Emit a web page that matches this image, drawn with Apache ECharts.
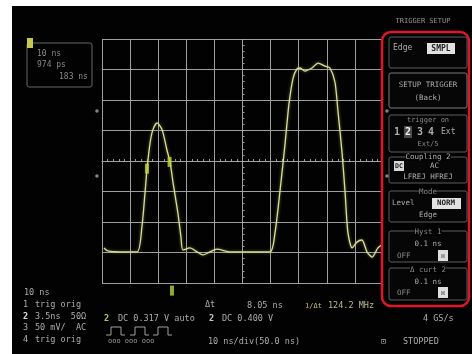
<!DOCTYPE html>
<html>
<head>
<meta charset="utf-8">
<style>
  html, body { margin: 0; padding: 0; background: #fff; }
  #screen { position: absolute; left: 12px; top: 6px; width: 460px; height: 348px; background: #020202; }
  #chart { position: absolute; left: 0; top: 0; width: 472px; height: 354px; }
</style>
<script src="https://cdn.jsdelivr.net/npm/echarts@6/dist/echarts.min.js"></script>
</head>
<body>
<div id="screen"></div>
<div id="chart"></div>
<script>
// Captured trace, channel 1 (10 ns/div, 100 mV/div, time relative to screen centre)
const timeNs = [-49.3, -47.9, -43.6, -37.5, -35.8, -34.7, -34.0, -32.9, -31.9, -30.4,
  -28.6, -26.9, -25.8, -24.7, -23.0, -21.9, -21.2, -18.7, -16.2, -14.1,
  -11.6, -9.1, -4.4, 2.7, 9.8, 11.6, 13.3, 15.1, 16.5, 18.0,
  19.4, 20.5, 22.2, 24.7, 26.9, 29.4, 31.1, 32.9, 34.0, 35.4,
  36.5, 37.5, 39.0, 40.7, 42.5, 44.3, 46.1, 48.2, 50.0];
const voltMv = [-285, -295, -298, -298, -216, -105, -30, 59, 102, 125,
  102, 36, -3, -72, -170, -249, -292, -285, -298, -308,
  -298, -289, -298, -298, -298, -233, -102, 52, 184, 272,
  302, 305, 295, 305, 321, 311, 305, 259, 161, 30,
  -102, -233, -285, -266, -259, -298, -315, -285, -272];

// Cursor measurement
const cursorT1 = -34.0;
const deltaTns = 8.05;
const cursorLevelsMv = [-25, -3];
const freqMHz = 124.2;

// Trigger position and level indicators
const triggerTimeNs = -25.1;
const levelMarksMv = [164, -49];

const ui = 'DejaVu Sans Mono';
const grey = '#acacac';
const dim = '#888888';

function txt(x, y, text, opt) {
  opt = opt || {};
  return {
    type: 'text', x: x, y: y, z: opt.z || 110,
    style: {
      text: text, fill: opt.fill || grey,
      font: (opt.weight || 'normal') + ' ' + (opt.size || 8) + 'px "' + ui + '"',
      textAlign: opt.align || 'left', textVerticalAlign: 'middle',
      backgroundColor: opt.bg, padding: opt.pad
    }
  };
}
function box(x, y, w, h, opt) {
  opt = opt || {};
  return {
    type: 'rect', z: opt.z || 105,
    shape: { x: x, y: y, width: w, height: h, r: opt.r || 2 },
    style: { fill: opt.fill || '#060606', stroke: opt.stroke || '#5c5c5c', lineWidth: opt.lw || 1 }
  };
}
function pulseIcon(x0) {
  return {
    type: 'polyline', z: 110,
    shape: { points: [[x0, 335], [x0 + 5, 335], [x0 + 5, 327], [x0 + 15, 327], [x0 + 15, 335], [x0 + 19, 335]] },
    style: { stroke: '#a0a0a0', lineWidth: 1, fill: null }
  };
}

const chart = echarts.init(document.getElementById('chart'), null, { renderer: 'canvas' });

const cursorData = cursorLevelsMv.map((v, i) => [cursorT1 + i * deltaTns, v]);

const graphics = [
  // channel badge and timebase readout box
  box(27, 43, 65, 44, { stroke: '#666', fill: 'transparent', z: 90 }),
  { type: 'rect', z: 95, shape: { x: 27, y: 38, width: 6, height: 10 }, style: { fill: '#c4c84e' } },
  txt(37, 54, '10 ns', { fill: dim }),
  txt(37, 65, '974 ps', { fill: dim }),
  txt(59, 77, '183 ns', { fill: dim }),

  // menu title
  txt(423, 21, 'TRIGGER SETUP', { fill: '#969696', align: 'center', size: 7 }),

  // softkey frame
  { type: 'rect', z: 100, shape: { x: 382, y: 32, width: 87, height: 274, r: 9 },
    style: { fill: '#020202', stroke: '#e0152a', lineWidth: 2.5 } },

  box(389, 37, 78, 31),
  txt(393, 48, 'Edge', {}),
  { type: 'rect', z: 108, shape: { x: 427, y: 43, width: 28, height: 11 }, style: { fill: '#e2e2e2' } },
  txt(441, 48.5, 'SMPL', { fill: '#222', align: 'center', weight: 'bold' }),

  box(389, 73, 78, 35, { stroke: '#7a7a7a' }),
  txt(428, 85, 'SETUP TRIGGER', { align: 'center', size: 7.5 }),
  txt(428, 98, '(Back)', { align: 'center', size: 7.5 }),

  box(389, 115, 78, 37),
  txt(428, 120, 'trigger on', { align: 'center', size: 7, fill: dim }),
  txt(394, 132, '1', { size: 10, weight: 'bold' }),
  { type: 'rect', z: 108, shape: { x: 404, y: 126, width: 8, height: 12 }, style: { fill: '#4a4a4a' } },
  txt(405, 132, '2', { size: 10, weight: 'bold', fill: '#f0f0f0' }),
  txt(417, 132, '3', { size: 10, weight: 'bold' }),
  txt(428, 132, '4', { size: 10, weight: 'bold' }),
  txt(441, 132, 'Ext', { size: 8 }),
  txt(428, 144, 'Ext/5', { align: 'center', size: 7, fill: dim }),

  box(389, 157, 78, 26),
  txt(428, 157, 'Coupling 2', { align: 'center', size: 7.5, bg: '#020202' }),
  { type: 'rect', z: 108, shape: { x: 394, y: 161, width: 10, height: 10 }, style: { fill: '#d8d8d8' } },
  txt(395, 166, 'DC', { size: 6.5, fill: '#222', weight: 'bold' }),
  txt(430, 166, 'AC', { size: 7.5 }),
  txt(428, 177, 'LFREJ HFREJ', { align: 'center', size: 7.5 }),

  box(389, 191, 78, 31),
  txt(428, 192, 'Mode', { align: 'center', size: 7.5, fill: dim, bg: '#020202' }),
  txt(392, 203, 'Level', { size: 7.5 }),
  { type: 'rect', z: 108, shape: { x: 432, y: 198, width: 29, height: 11 }, style: { fill: '#e2e2e2' } },
  txt(446, 203.5, 'NORM', { fill: '#222', align: 'center', weight: 'bold', size: 7.5 }),
  txt(428, 215, 'Edge', { align: 'center', size: 7.5 }),

  box(389, 231, 78, 31),
  txt(428, 232, 'Hyst 1', { align: 'center', size: 7.5, fill: dim, bg: '#020202' }),
  txt(428, 244, '0.1 ns', { align: 'center', size: 7.5 }),
  txt(397, 256, 'OFF', { size: 7.5, fill: dim }),
  { type: 'rect', z: 108, shape: { x: 438, y: 250, width: 10, height: 11 }, style: { fill: '#dedede' } },
  txt(443, 255.5, '☒', { fill: '#333', align: 'center', size: 8 }),

  box(389, 268, 78, 32),
  txt(428, 270, 'Δ curt 2', { align: 'center', size: 7.5, fill: dim, bg: '#020202' }),
  txt(428, 282, '0.1 ns', { align: 'center', size: 7.5 }),
  txt(397, 293, 'OFF', { size: 7.5, fill: dim }),
  { type: 'rect', z: 108, shape: { x: 438, y: 287, width: 10, height: 11 }, style: { fill: '#dedede' } },
  txt(443, 292.5, '☒', { fill: '#333', align: 'center', size: 8 }),

  // channel status block
  txt(24, 293, '10 ns', { size: 8.5 }),
  txt(23, 305, '1', { size: 8.5 }), txt(35, 305, 'trig orig', { size: 8.5 }),
  txt(23, 317, '2', { size: 8.5, fill: '#dcdcdc', weight: 'bold' }), txt(35, 317, '3.5ns  50Ω', { size: 8.5 }),
  txt(23, 328, '3', { size: 8.5 }), txt(35, 328, '50 mV/  AC', { size: 8.5 }),
  txt(23, 340, '4', { size: 8.5 }), txt(35, 340, 'trig orig', { size: 8.5 }),

  // measurement line
  txt(205, 305, 'Δt', { size: 8.5 }),
  txt(247, 306, deltaTns.toFixed(2) + ' ns', { size: 8.5 }),
  txt(305, 306, '1/Δt', { size: 7, fill: '#c8c070' }),
  txt(328, 306, freqMHz.toFixed(1) + ' MHz', { size: 8.5, fill: '#bdb890' }),

  txt(104, 319, '2', { size: 8.5, fill: '#9ccc5a', weight: 'bold' }),
  txt(118, 319, 'DC 0.317 V auto', { size: 8.5 }),
  txt(209, 319, '2', { size: 8.5, fill: '#c4c4c4', weight: 'bold' }),
  txt(222, 319, 'DC 0.400 V', { size: 8.5 }),
  txt(423, 319, '4 GS/s', { size: 8.5 }),

  pulseIcon(106), pulseIcon(130), pulseIcon(153),
  txt(108, 341, 'ooo ooo ooo', { size: 7, fill: '#9c9c9c' }),

  txt(208, 342, '10 ns/div(50.0 ns)', { size: 8.5 }),
  txt(381, 342, '⊡', { size: 8.5 }),
  txt(403, 342, 'STOPPED', { size: 8.5 })
];

chart.setOption({
  backgroundColor: 'transparent',
  animation: false,
  grid: { left: 102, top: 39, width: 281, height: 244, show: false },
  xAxis: {
    type: 'value', min: -50, max: 50, interval: 10,
    axisLine: { show: true, onZero: true, lineStyle: { color: '#a4a4a4', width: 1, type: [2, 3] } },
    axisTick: { show: true, inside: true, length: 3, lineStyle: { color: '#a4a4a4' } },
    minorTick: { show: true, splitNumber: 5, length: 2, lineStyle: { color: '#9a9a9a' } },
    axisLabel: { show: false },
    splitLine: { show: true, lineStyle: { color: '#9e9e9e', width: 1 } }
  },
  yAxis: {
    type: 'value', min: -400, max: 400, interval: 100,
    axisLine: { show: true, onZero: true, lineStyle: { color: '#a4a4a4', width: 1, type: [2, 3] } },
    axisTick: { show: true, inside: true, length: 3, lineStyle: { color: '#a4a4a4' } },
    minorTick: { show: true, splitNumber: 5, length: 2, lineStyle: { color: '#9a9a9a' } },
    axisLabel: { show: false },
    splitLine: { show: true, lineStyle: { color: '#9e9e9e', width: 1 } }
  },
  series: [
    {
      name: 'Channel 1', type: 'line', z: 5,
      data: timeNs.map((t, i) => [t, voltMv[i]]),
      symbol: 'none', smooth: 0.25,
      lineStyle: { color: '#d9dc9a', width: 1.3, shadowBlur: 3, shadowColor: 'rgba(210,220,120,0.6)' }
    },
    {
      name: 'Cursors', type: 'scatter', z: 6,
      data: cursorData, symbol: 'rect', symbolSize: [4, 10],
      itemStyle: { color: '#c6d23a' }
    },
    {
      name: 'Trigger position', type: 'scatter', z: 6, clip: false,
      data: [[triggerTimeNs, -425]], symbol: 'rect', symbolSize: [4, 10],
      itemStyle: { color: '#bcd044' }
    },
    {
      name: 'Level marks', type: 'scatter', z: 200, clip: false,
      data: levelMarksMv.map(v => [-51.8, v]).concat(levelMarksMv.map(v => [51.4, v])),
      symbol: 'circle', symbolSize: 3.5,
      itemStyle: { color: '#a4a4a4' }
    }
  ],
  graphic: graphics
});
</script>
</body>
</html>
